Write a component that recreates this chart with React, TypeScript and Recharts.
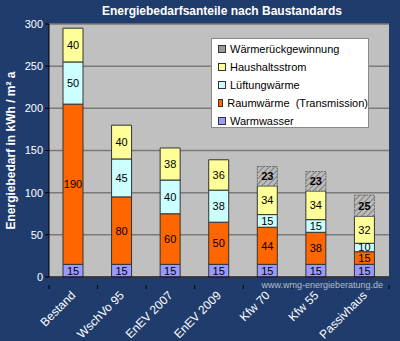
import { BarChart, Bar, XAxis, YAxis, CartesianGrid, LabelList } from "recharts"

const categories = ["Bestand", "WschVo 95", "EnEV 2007", "EnEV 2009", "Kfw 70", "Kfw 55", "Passivhaus"]
const warmwasser = [15, 15, 15, 15, 15, 15, 15]
const raumwaerme = [190, 80, 60, 50, 44, 38, 15]
const lueftung = [50, 45, 40, 38, 15, 15, 10]
const haushalt = [40, 40, 38, 36, 34, 34, 32]
const waermerueck = [null, null, null, null, 23, 23, 25]
const yTicks = [0, 50, 100, 150, 200, 250, 300]

const series = [
  { key: "warmwasser", name: "Warmwasser", color: "#9999ff" },
  { key: "raumwaerme", name: "Raumwärme  (Transmission)", color: "#ff6600" },
  { key: "lueftung", name: "Lüftungwärme", color: "#ccffff" },
  { key: "haushalt", name: "Haushaltsstrom", color: "#ffff99" },
  { key: "waermerueck", name: "Wärmerückgewinnung", color: "#9a9a9a" },
]

const data = categories.map((name, i) => ({
  name,
  warmwasser: warmwasser[i],
  raumwaerme: raumwaerme[i],
  lueftung: lueftung[i],
  haushalt: haushalt[i],
  waermerueck: waermerueck[i] ?? undefined,
}))

const font = "'Liberation Sans', Arial, sans-serif"

function HatchBar(props: any) {
  const { x, y, width, height } = props
  if (!height) return null
  return (
    <g>
      <defs>
        <pattern id="hatch" width="4" height="4" patternUnits="userSpaceOnUse" patternTransform="rotate(45)">
          <rect width="4" height="4" fill="#bcbcbc" />
          <line x1="0" y1="0" x2="0" y2="4" stroke="#767676" strokeWidth="1.8" />
        </pattern>
      </defs>
      <rect x={x} y={y} width={width} height={height} fill="url(#hatch)" stroke="#666" strokeDasharray="2 1" />
    </g>
  )
}

function XTick(props: any) {
  const { x, y, payload, index } = props
  const half = 24.3
  return (
    <g>
      <line x1={x - half} y1={y} x2={x - half} y2={y + 4} stroke="#000" />
      {index === categories.length - 1 && <line x1={x + half} y1={y} x2={x + half} y2={y + 4} stroke="#000" />}
      <text
        x={x + 3}
        y={y + 11}
        transform={`rotate(-45 ${x + 3} ${y + 11})`}
        textAnchor="end"
        fill="#fff"
        fontSize={12}
        fontFamily={font}
      >
        {payload.value}
      </text>
    </g>
  )
}

function LegendBox() {
  const items = [...series].reverse()
  return (
    <div
      style={{
        position: "absolute",
        left: 211,
        top: 38,
        background: "#fff",
        border: "1px solid #8a8a8a",
        width: 158,
        height: 90,
        boxSizing: "border-box",
        padding: "1px 0 0 6px",
        fontFamily: font,
        fontSize: 11,
        color: "#000",
      }}
    >
      {items.map((s) => (
        <div key={s.key} style={{ display: "flex", alignItems: "center", height: 18, whiteSpace: "pre" }}>
          <span
            style={{
              display: "inline-block",
              width: 6,
              height: 6,
              background: s.color,
              border: "1px solid #333",
              marginRight: 4,
            }}
          />
          {s.name}
        </div>
      ))}
    </div>
  )
}

export default function App() {
  return (
    <div style={{ position: "absolute", left: 0, top: 0, width: 400, height: 341, background: "#1f3c6c" }}>
      <div
        style={{
          position: "absolute",
          left: 0,
          width: 444,
          top: 4,
          textAlign: "center",
          color: "#fff",
          fontWeight: "bold",
          fontSize: 12,
          fontFamily: font,
          whiteSpace: "nowrap",
        }}
      >
        Energiebedarfsanteile nach Baustandards
      </div>
      <BarChart width={400} height={341} data={data} margin={{ top: 24, right: 11, bottom: 0, left: 0 }} barSize={20}>
        <CartesianGrid vertical={false} fill="#c0c0c0" stroke="#7a7a7a" strokeWidth={1.5} />
        <XAxis
          dataKey="name"
          tick={<XTick />}
          tickLine={false}
          axisLine={{ stroke: "#000" }}
          interval={0}
          height={64}
        />
        <YAxis
          domain={[0, 300]}
          ticks={yTicks}
          width={49}
          axisLine={{ stroke: "#000" }}
          tickLine={{ stroke: "#000" }}
          tickSize={4}
          tick={{ fill: "#fff", fontSize: 11, fontFamily: font }}
          label={{
            content: ({ viewBox }: any) => (
              <text
                x={11}
                y={viewBox.y + viewBox.height / 2}
                transform={`rotate(-90 11 ${viewBox.y + viewBox.height / 2})`}
                textAnchor="middle"
                dominantBaseline="central"
                fill="#fff"
                fontWeight="bold"
                fontSize={12}
                fontFamily={font}
              >
                Energiebedarf in kWh / m² a
              </text>
            ),
          }}
        />
        {series.map((s) => (
          <Bar
            key={s.key}
            dataKey={s.key}
            name={s.name}
            stackId="a"
            fill={s.color}
            stroke="#333"
            strokeWidth={1}
            isAnimationActive={false}
            shape={s.key === "waermerueck" ? HatchBar : undefined}
          >
            <LabelList
              dataKey={s.key}
              position="center"
              fill="#000"
              fontSize={11}
              fontFamily={font}
              fontWeight={s.key === "waermerueck" ? "bold" : "normal"}
            />
          </Bar>
        ))}
      </BarChart>
      <LegendBox />
      <div
        style={{
          position: "absolute",
          right: 17,
          top: 280,
          color: "#b4bccb",
          fontSize: 9,
          fontFamily: font,
          whiteSpace: "nowrap",
        }}
      >
        www.wmg-energieberatung.de
      </div>
    </div>
  )
}
